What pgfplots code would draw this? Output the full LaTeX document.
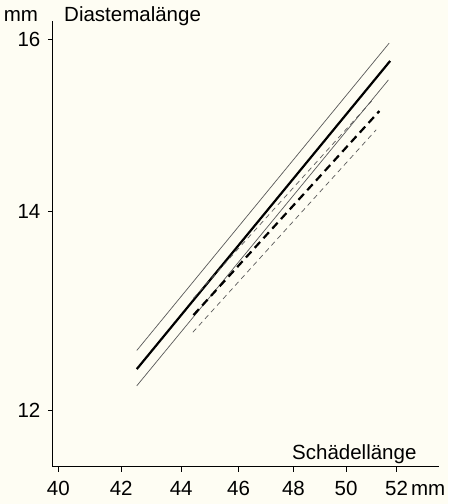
\documentclass[border=0pt]{standalone}
\usepackage{fontspec}
\setmainfont{Liberation Sans}
\usepackage{pgfplots}
\pgfplotsset{compat=1.18}
\definecolor{bg}{RGB}{254,253,243}
\newcommand{\lf}{\fontsize{20.5}{24}\selectfont}
\begin{document}
\begin{tikzpicture}
\fill[bg] (-52.7pt,-37.3pt) rectangle (395.3pt,466.7pt);
\path[use as bounding box] (-52.7pt,-37.3pt) rectangle (395.3pt,466.7pt);
\begin{axis}[
  scale only axis, width=386.3pt, height=446pt,
  xmode=log, ymode=log,
  xmin=39.83, xmax=53.74, ymin=11.486, ymax=16.24,
  axis lines=left, axis line style={-, line width=0.8pt},
  tick align=outside, major tick length=5pt, tick style={black, line width=0.8pt},
  xtick={40,42,44,46,48,50,52},
  xticklabels={40,42,44,46,48,50,{52\rlap{\hspace{3pt}mm}}},
  ytick={12,14,16}, yticklabels={12,14,16},
  xminorticks=false, yminorticks=false,
  tick label style={font=\lf},
  xticklabel style={yshift=-6pt},
  yticklabel style={xshift=-4pt},
  clip=false,
]
\addplot[black!65, line width=0.7pt] coordinates {(42.51,12.57) (51.70,15.96)};
\addplot[black, line width=2.2pt] coordinates {(42.51,12.39) (51.74,15.74)};
\addplot[black!65, line width=0.7pt] coordinates {(42.51,12.23) (51.67,15.51)};
\addplot[black!65, line width=0.7pt, dash pattern=on 5pt off 4pt] coordinates {(44.42,13.09) (51.10,15.29)};
\addplot[black, line width=2.2pt, dash pattern=on 8pt off 5pt] coordinates {(44.42,12.92) (51.31,15.14)};
\addplot[black!65, line width=0.7pt, dash pattern=on 5pt off 4pt] coordinates {(44.40,12.75) (51.18,14.92)};
\end{axis}
\node[anchor=base, inner sep=0pt, font=\lf] at (-31.7pt,445pt) {mm};
\node[anchor=base west, inner sep=0pt, font=\lf] at (11.3pt,445pt) {Diastemalänge};
\node[anchor=base west, inner sep=0pt, font=\lf] at (239.3pt,7.7pt) {Schädellänge};
\end{tikzpicture}
\end{document}
